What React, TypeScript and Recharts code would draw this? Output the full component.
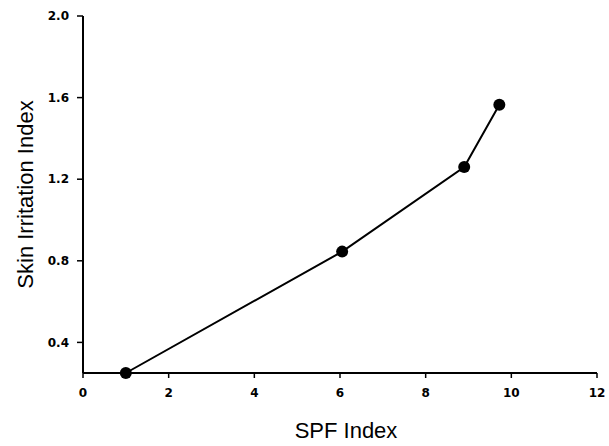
import React from 'react';
import { LineChart, Line, XAxis, YAxis } from 'recharts';

const spfIndex = [1.0, 6.05, 8.9, 9.72];
const irritationIndex = [0.25, 0.845, 1.26, 1.565];
const xTicks = [0, 2, 4, 6, 8, 10, 12];
const yTicks = [0.4, 0.8, 1.2, 1.6, 2.0];

const data = spfIndex.map((x, i) => ({ x, y: irritationIndex[i] }));

const tickStyle = { fontFamily: 'DejaVu Sans', fontWeight: 'bold', fontSize: 12, fill: '#000' };

const YLabel = (props: any) => {
  const vb = props.viewBox || { x: 0, y: 16, width: 83, height: 357 };
  const cy = vb.y + vb.height / 2;
  return (
    <text
      transform={`translate(33,${cy}) rotate(-90)`}
      textAnchor="middle"
      fontFamily="Liberation Sans, Arial"
      fontSize={22}
      fill="#000"
    >
      Skin Irritation Index
    </text>
  );
};

const XLabel = (props: any) => {
  const vb = props.viewBox || { x: 83, y: 373, width: 514, height: 73 };
  const cx = vb.x + vb.width / 2 + 6;
  return (
    <text x={cx} y={438} textAnchor="middle" fontFamily="Liberation Sans, Arial" fontSize={22} fill="#000">
      SPF Index
    </text>
  );
};

export default function App() {
  return (
    <div style={{ position: 'absolute', left: 0, top: 0, background: '#fff' }}>
      <LineChart width={609} height={446} data={data} margin={{ top: 16, right: 12, bottom: 0, left: 0 }}>
        <XAxis
          type="number"
          dataKey="x"
          domain={[0, 12]}
          ticks={xTicks}
          interval={0}
          height={73}
          tickSize={5}
          tickMargin={10}
          tick={tickStyle}
          axisLine={{ stroke: '#000', strokeWidth: 2 }}
          tickLine={{ stroke: '#000', strokeWidth: 1.5 }}
          label={<XLabel />}
        />
        <YAxis
          type="number"
          dataKey="y"
          domain={[0.25, 2.0]}
          ticks={yTicks}
          interval={0}
          width={83}
          tickSize={6}
          tickMargin={8}
          tick={tickStyle}
          tickFormatter={(v: number) => v.toFixed(1)}
          axisLine={{ stroke: '#000', strokeWidth: 2 }}
          tickLine={{ stroke: '#000', strokeWidth: 1.5 }}
          label={<YLabel />}
        />
        <Line
          type="linear"
          dataKey="y"
          stroke="#000"
          strokeWidth={2}
          dot={{ r: 6, fill: '#000', stroke: '#000', strokeWidth: 0, clipDot: false }}
          isAnimationActive={false}
        />
      </LineChart>
    </div>
  );
}
